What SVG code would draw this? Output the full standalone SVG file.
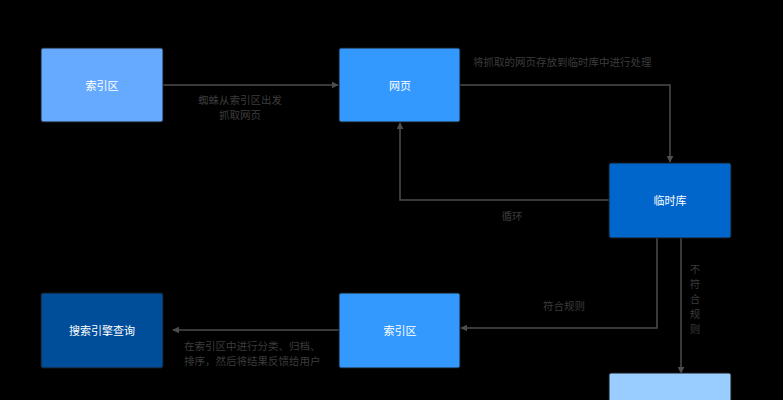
<svg xmlns="http://www.w3.org/2000/svg" width="783" height="400" viewBox="0 0 783 400">
<style>
.nt{font-family:"Noto Sans CJK SC","Liberation Sans",sans-serif;font-size:11px;fill:#ffffff;text-anchor:middle;dominant-baseline:central}
.lb{font-family:"Noto Sans CJK SC","Liberation Sans",sans-serif;font-size:10.5px;fill:#3c3c3c}
.ed{fill:none;stroke:#4d4d4d;stroke-width:1.5;marker-end:url(#ah)}
.nd{stroke:#1a1a1a;stroke-width:1}
</style>
<defs>
<marker id="ah" viewBox="0 0 10 10" refX="9" refY="5" markerWidth="7" markerHeight="7" orient="auto" markerUnits="userSpaceOnUse">
<path d="M0,0 L10,5 L0,10 Z" fill="#4d4d4d"/>
</marker>
</defs>
<rect width="783" height="400" fill="#000000"/>
<g id="connectors">
<path class="ed" d="M163,85 L338,85"/>
<path class="ed" d="M460,85 L670,85 L670,162"/>
<path class="ed" d="M609,200 L400,200 L400,123"/>
<path class="ed" d="M657,238 L657,328 L461,328"/>
<path class="ed" d="M681,238 L681,373"/>
<path class="ed" d="M339,330 L173,330"/>
<text class="lb" x="240" y="104" text-anchor="middle">蜘蛛从索引区出发</text>
<text class="lb" x="240" y="119" text-anchor="middle">抓取网页</text>
<text class="lb" x="473" y="66">将抓取的网页存放到临时库中进行处理</text>
<text class="lb" x="512" y="220" text-anchor="middle">循环</text>
<text class="lb" x="564" y="310" text-anchor="middle">符合规则</text>
<text class="lb" x="695" y="273" text-anchor="middle">不</text>
<text class="lb" x="695" y="288" text-anchor="middle">符</text>
<text class="lb" x="695" y="303" text-anchor="middle">合</text>
<text class="lb" x="695" y="318" text-anchor="middle">规</text>
<text class="lb" x="695" y="333" text-anchor="middle">则</text>
<text class="lb" x="184" y="350">在索引区中进行分类、归档、</text>
<text class="lb" x="184" y="365">排序，然后将结果反馈给用户</text>
</g>
<g id="node-index-top">
<rect class="nd" x="41" y="48" width="122" height="74" rx="2" fill="#66aaff"/>
<text class="nt" x="102" y="85">索引区</text>
</g>
<g id="node-webpage">
<rect class="nd" x="339" y="48" width="121" height="74" rx="2" fill="#3399ff"/>
<text class="nt" x="400" y="85">网页</text>
</g>
<g id="node-temp">
<rect class="nd" x="609" y="163" width="122" height="75" rx="2" fill="#0066cc"/>
<text class="nt" x="670" y="200">临时库</text>
</g>
<g id="node-index-bottom">
<rect class="nd" x="339" y="293" width="121" height="75" rx="2" fill="#3399ff"/>
<text class="nt" x="400" y="330">索引区</text>
</g>
<g id="node-search">
<rect class="nd" x="41" y="293" width="122" height="75" rx="2" fill="#004d99"/>
<text class="nt" x="102" y="330">搜索引擎查询</text>
</g>
<g id="node-discard">
<rect class="nd" x="609" y="373" width="122" height="75" rx="2" fill="#99ccff"/>
</g>
</svg>
